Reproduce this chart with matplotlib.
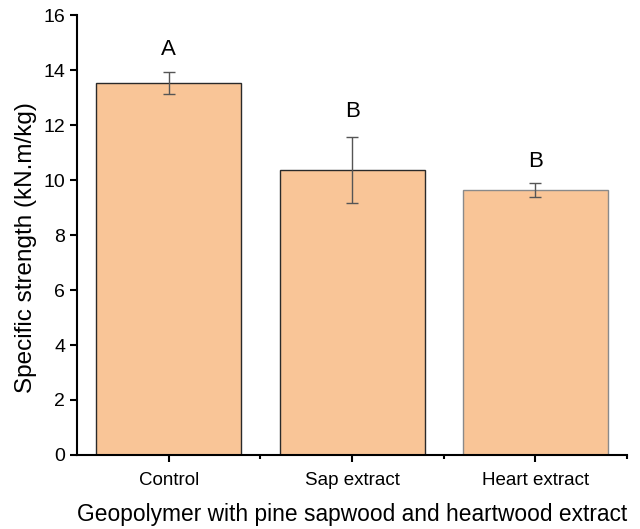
import numpy as np
import matplotlib.pyplot as plt
from matplotlib.ticker import FixedLocator

plt.rcParams['font.family'] = ['Liberation Sans', 'DejaVu Sans']

# data
groups = ['Control', 'Sap extract', 'Heart extract']
strength = [13.53, 10.38, 9.64]
strength_err = [0.41, 1.2, 0.25]
letters = ['A', 'B', 'B']
letter_y = [14.73, 12.48, 10.67]

fig = plt.figure(figsize=(6.4, 5.29), dpi=100)
ax = fig.add_axes([0.1203, 0.1399, 0.8597, 0.8317])

x = np.arange(1, len(groups) + 1)
edges = ['#2a2a2a', '#2a2a2a', '#8a8a8a']
ax.bar(x, strength, width=0.79, color='#F9C597', edgecolor=edges, linewidth=1.0, zorder=2)
ax.errorbar(x, strength, yerr=strength_err, fmt='none', ecolor='#555555',
            elinewidth=1.0, capsize=4, capthick=1.0, zorder=3)

for xi, lab, ly in zip(x, letters, letter_y):
    ax.text(xi, ly, lab, ha='center', va='center', fontsize=16)

ax.set_xlim(0.5, 3.5)
ax.set_ylim(0, 16)
ax.set_yticks(np.arange(0, 17, 2))
ax.set_xticks(x)
ax.set_xticklabels(groups, fontsize=13.5)
ax.xaxis.set_minor_locator(FixedLocator([1.5, 2.5, 3.5]))
ax.tick_params(axis='y', labelsize=14, direction='out', length=5, width=1.5)
ax.tick_params(axis='x', which='major', direction='out', length=5, width=1.5, pad=7)
ax.tick_params(axis='x', which='minor', direction='out', length=3, width=1.5)

for s in ['top', 'right']:
    ax.spines[s].set_visible(False)
for s in ['left', 'bottom']:
    ax.spines[s].set_linewidth(1.5)

ax.set_ylabel('Specific strength (kN.m/kg)', fontsize=17.5)
ax.yaxis.set_label_coords(-0.072, 0.472)
ax.set_xlabel('Geopolymer with pine sapwood and heartwood extract', fontsize=16.4, labelpad=10)

plt.savefig('out.png', dpi=100)
